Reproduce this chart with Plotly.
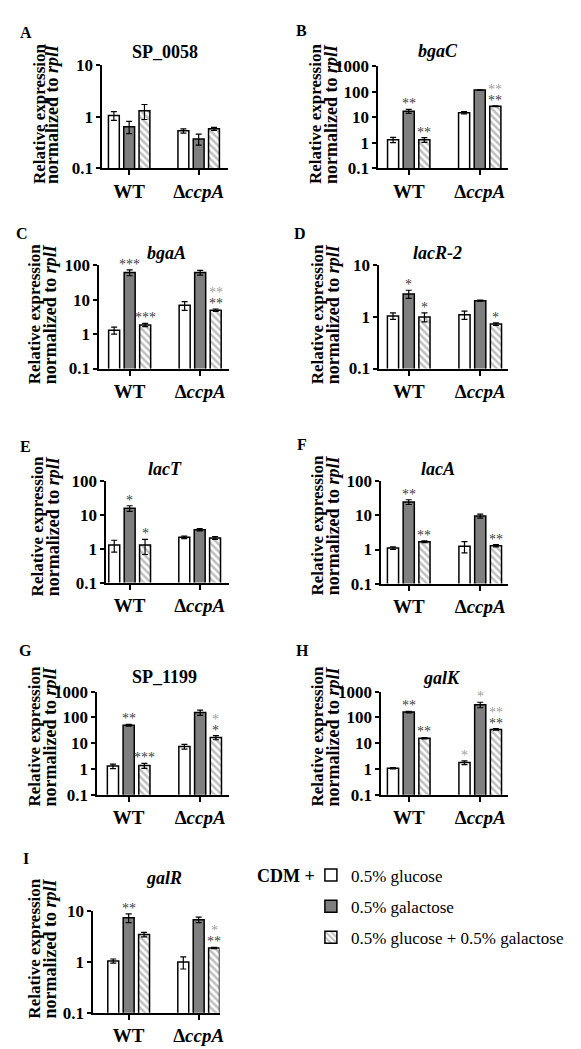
import plotly.graph_objects as go
import math

W, H = 581, 1049

# ---------------- data ----------------
strains = ['WT', 'ΔccpA']
strain_labels = ['WT', 'Δ<i>ccpA</i>']
conditions = ['0.5% glucose', '0.5% galactose', '0.5% glucose + 0.5% galactose']
genes = ['SP_0058', 'bgaC', 'bgaA', 'lacR-2', 'lacT', 'lacA', 'SP_1199', 'galK', 'galR']
gene_titles = ['<b>SP_0058</b>', '<b><i>bgaC</i></b>', '<b><i>bgaA</i></b>', '<b><i>lacR-2</i></b>',
               '<b><i>lacT</i></b>', '<b><i>lacA</i></b>', '<b>SP_1199</b>', '<b><i>galK</i></b>',
               '<b><i>galR</i></b>']
panel_letters = ['A', 'B', 'C', 'D', 'E', 'F', 'G', 'H', 'I']
y_top_exponent = [1, 3, 2, 1, 2, 2, 3, 3, 1]

# mean relative expression, per gene
glucose_wt = [1.05, 1.3, 1.3, 1.05, 1.3, 1.1, 1.28, 1.06, 1.05]
glucose_ccpa = [0.53, 15, 6.9, 1.1, 2.2, 1.25, 7.4, 1.75, 1.0]
galactose_wt = [0.64, 17, 62, 2.8, 16, 25, 49, 160, 7.5]
galactose_ccpa = [0.37, 115, 62, 2.07, 3.7, 9.7, 155, 310, 6.9]
mix_wt = [1.3, 1.3, 1.85, 1.0, 1.3, 1.7, 1.35, 15.5, 3.5]
mix_ccpa = [0.58, 27, 5.0, 0.73, 2.1, 1.3, 16.5, 34, 1.9]

# error bars (symmetric), per gene
glucose_wt_err = [0.2, 0.3, 0.3, 0.15, 0.5, 0.1, 0.25, 0.07, 0.1]
glucose_ccpa_err = [0.05, 1.5, 2.0, 0.2, 0.2, 0.45, 1.6, 0.3, 0.27]
galactose_wt_err = [0.17, 3, 12, 0.5, 3, 4, 4, 10, 1.5]
galactose_ccpa_err = [0.09, 3, 10, 0.05, 0.3, 1.3, 35, 75, 0.85]
mix_wt_err = [0.42, 0.28, 0.2, 0.2, 0.62, 0.1, 0.3, 1.0, 0.35]
mix_ccpa_err = [0.04, 1.0, 0.4, 0.04, 0.2, 0.1, 3.0, 2.5, 0.06]

# significance marks: (gene index, strain index, condition index, text, shade, stack level)
significance = [
    (1, 0, 1, '**', 'dark', 0), (1, 0, 2, '**', 'dark', 0), (1, 1, 2, '**', 'dark', 0), (1, 1, 2, '**', 'light', 1),
    (2, 0, 1, '***', 'dark', 0), (2, 0, 2, '***', 'dark', 0), (2, 1, 2, '**', 'dark', 0), (2, 1, 2, '**', 'light', 1),
    (3, 0, 1, '*', 'dark', 0), (3, 0, 2, '*', 'dark', 0), (3, 1, 2, '*', 'dark', 0),
    (4, 0, 1, '*', 'dark', 0), (4, 0, 2, '*', 'dark', 0),
    (5, 0, 1, '**', 'dark', 0), (5, 0, 2, '**', 'dark', 0), (5, 1, 2, '**', 'dark', 0),
    (6, 0, 1, '**', 'dark', 0), (6, 0, 2, '***', 'dark', 0), (6, 1, 2, '*', 'dark', 0), (6, 1, 2, '*', 'light', 1),
    (7, 0, 1, '**', 'dark', 0), (7, 0, 2, '**', 'dark', 0), (7, 1, 0, '*', 'light', 0), (7, 1, 1, '*', 'light', 0),
    (7, 1, 2, '**', 'dark', 0), (7, 1, 2, '**', 'light', 1),
    (8, 0, 1, '**', 'dark', 0), (8, 1, 2, '**', 'dark', 0), (8, 1, 2, '*', 'light', 1),
]

# ---------------- layout geometry (pixels) ----------------
# left, right, top, bottom of plot area; WT group centre; spacing between groups
panel_box = [
    (95, 222, 49, 154, 122, 70),
    (373, 503, 50, 154, 403.5, 71.5),
    (92, 223, 253, 358, 122.5, 71),
    (374, 503, 253, 358, 403.5, 72),
    (99, 223, 473, 576, 122.5, 70.5),
    (376, 503, 473, 577, 403.5, 72),
    (90, 223, 687, 792, 121.5, 72),
    (376, 503, 687, 792, 403.5, 72),
    (86, 213, 911, 1014, 121.5, 70.5),
]
title_pos = [(158, 36), (433, 35), (160, 240), (432, 240), (158, 460), (433, 460), (158, 672), (437, 673), (157, 877)]
letter_pos = [(18, 16), (296, 14), (14, 220), (294, 220), (18, 437), (296, 435), (18, 645), (297, 645), (18, 857)]
ytitle_pos = [(31, 45, 99), (309, 325, 99), (27, 42, 303), (312, 327, 303), (30, 45, 519),
              (312, 327, 518), (27, 42, 733), (312, 327, 733), (27, 42, 949)]

SERIF = "'Liberation Serif', 'Times New Roman', Times, serif"
BARGAP = 0.34
SLOT = (1 - BARGAP) / 3


def px(x):
    return x / W


def py(y):
    return 1 - y / H


means = [
    (glucose_wt, glucose_ccpa),
    (galactose_wt, galactose_ccpa),
    (mix_wt, mix_ccpa),
]
errs = [
    (glucose_wt_err, glucose_ccpa_err),
    (galactose_wt_err, galactose_ccpa_err),
    (mix_wt_err, mix_ccpa_err),
]
fills = ['white', '#7f7f7f', 'white']
patterns = [dict(shape=''), dict(shape=''),
            dict(shape='\\', fgcolor='#808080', bgcolor='white', size=5, solidity=0.5)]

fig = go.Figure()
annotations = []

for g in range(len(genes)):
    sfx = '' if g == 0 else str(g + 1)
    for c in range(3):
        vals = [means[c][0][g], means[c][1][g]]
        ev = [errs[c][0][g], errs[c][1][g]]
        fig.add_trace(go.Bar(
            x=strains, y=vals, name=conditions[c],
            xaxis='x' + sfx, yaxis='y' + sfx,
            marker=dict(color=fills[c], line=dict(color='black', width=1.5), pattern=patterns[c]),
            error_y=dict(type='data', array=ev, arrayminus=ev, color='black', thickness=1.2, width=3),
            showlegend=(g == 0), legendgroup=conditions[c],
        ))
    l, r, t, b, wt, sp = panel_box[g]
    xr = [(l - wt) / sp, (r - wt) / sp]
    fig.layout['xaxis' + sfx] = dict(
        domain=[px(l), px(r)], anchor='y' + sfx, type='category', range=xr,
        showline=True, linecolor='black', linewidth=2, ticks='outside', ticklen=5, tickwidth=2,
        tickcolor='black', tickvals=strains, ticktext=['<b>' + s + '</b>' for s in strain_labels],
        showgrid=False, zeroline=False,
        tickfont=dict(family=SERIF, size=19, color='black'), fixedrange=True,
    )
    top = y_top_exponent[g]
    tv = [10 ** k for k in range(-1, top + 1)]
    tt = ['<b>0.1</b>'] + ['<b>' + str(10 ** k) + '</b>' for k in range(0, top + 1)]
    fig.layout['yaxis' + sfx] = dict(
        domain=[py(b), py(t)], anchor='x' + sfx, type='log', range=[-1, top],
        showline=True, linecolor='black', linewidth=2, ticks='outside', ticklen=4, tickwidth=2,
        tickcolor='black', tickvals=tv, ticktext=tt, showgrid=False, zeroline=False,
        tickfont=dict(family=SERIF, size=17, color='black'), fixedrange=True,
    )
    # panel title
    annotations.append(dict(text=gene_titles[g], x=px(title_pos[g][0]), y=py(title_pos[g][1]),
                            xref='paper', yref='paper', showarrow=False, xanchor='center', yanchor='middle',
                            font=dict(family=SERIF, size=18, color='black')))
    # panel letter
    annotations.append(dict(text='<b>' + panel_letters[g] + '</b>', x=px(letter_pos[g][0]), y=py(letter_pos[g][1]),
                            xref='paper', yref='paper', showarrow=False, xanchor='center', yanchor='middle',
                            font=dict(family=SERIF, size=16, color='black')))
    # y-axis title, two lines
    x1, x2, yc = ytitle_pos[g]
    annotations.append(dict(text='<b>Relative expression</b>', x=px(x1), y=py(yc), xref='paper', yref='paper',
                            showarrow=False, textangle=-90, xanchor='center', yanchor='middle',
                            font=dict(family=SERIF, size=17, color='black')))
    annotations.append(dict(text='<b>normalized to <i>rplI</i></b>', x=px(x2), y=py(yc), xref='paper', yref='paper',
                            showarrow=False, textangle=-90, xanchor='center', yanchor='middle',
                            font=dict(family=SERIF, size=18, color='black')))

# significance asterisks
for (g, s, c, txt, shade, lvl) in significance:
    sfx = '' if g == 0 else str(g + 1)
    topv = means[c][s][g] + errs[c][s][g]
    annotations.append(dict(
        text=txt, x=s + (c - 1) * SLOT, y=math.log10(topv), xref='x' + sfx, yref='y' + sfx,
        showarrow=False, xanchor='center', yanchor='bottom', yshift=-4 + 11 * lvl,
        font=dict(family=SERIF, size=14, color='#404040' if shade == 'dark' else '#a0a0a0'),
    ))

# legend header
annotations.append(dict(text='<b>CDM +</b>', x=px(311), y=py(875), xref='paper', yref='paper', showarrow=False,
                        xanchor='right', yanchor='middle', font=dict(family=SERIF, size=18, color='black')))

fig.update_layout(
    width=W, height=H, autosize=False,
    margin=dict(l=0, r=0, t=0, b=0),
    paper_bgcolor='white', plot_bgcolor='white',
    barmode='group', bargap=BARGAP, bargroupgap=0.29,
    annotations=annotations,
    showlegend=True,
    legend=dict(x=px(305), y=py(856), xanchor='left', yanchor='top', traceorder='grouped',
                tracegroupgap=6, bgcolor='rgba(0,0,0,0)', itemwidth=30,
                font=dict(family=SERIF, size=17, color='black')),
    font=dict(family=SERIF, color='black'),
)

fig.write_html('out.html')
